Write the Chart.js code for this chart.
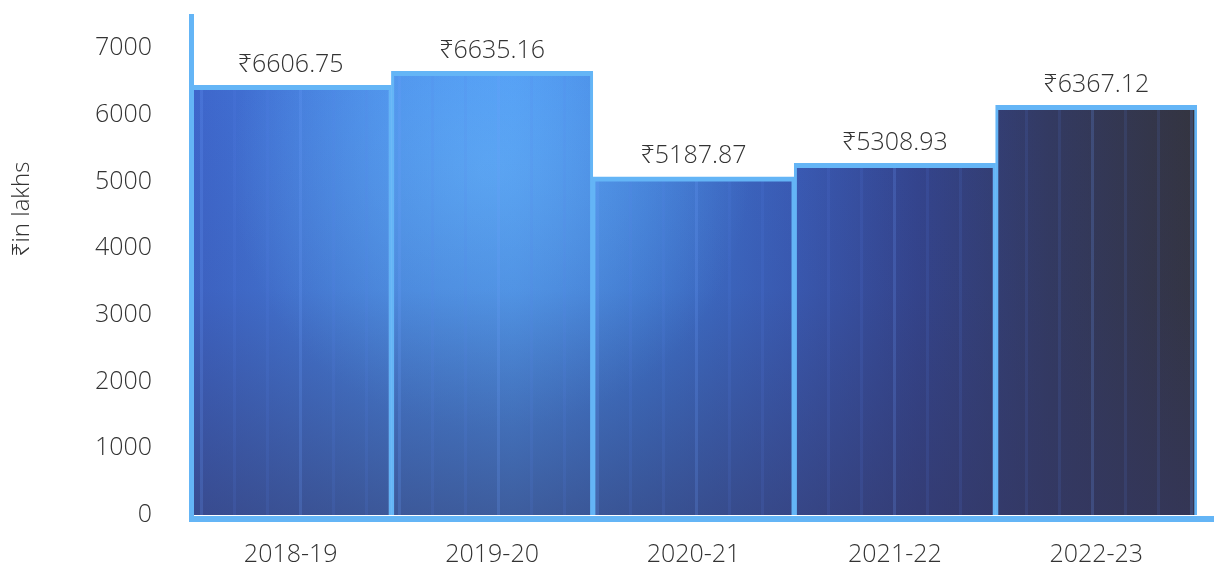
<!DOCTYPE html>
<html>
<head>
<meta charset="utf-8">
<script src="https://cdn.jsdelivr.net/npm/chart.js@4.4.1/dist/chart.umd.min.js"></script>
<style>
  html, body { margin: 0; padding: 0; background: #fff; }
  #wrap { width: 1214px; height: 567px; position: relative; }
</style>
</head>
<body>
<div id="wrap"><canvas id="grafico"></canvas></div>
<script>
const anios = ['2018-19', '2019-20', '2020-21', '2021-22', '2022-23'];
const alturas = [6440, 6650, 5070, 5270, 6140];
const etiquetas = ['₹6606.75', '₹6635.16', '₹5187.87', '₹5308.93', '₹6367.12'];
const marcasY = [0, 1000, 2000, 3000, 4000, 5000, 6000, 7000];

const azulBorde = '#64b5f6';
const fuente = "'Open Sans', 'Noto Sans', sans-serif";

// textura de las barras (degradado azul + rayas verticales)
function crearTextura(w, h) {
  const c = document.createElement('canvas');
  c.width = w; c.height = h;
  const g = c.getContext('2d');
  const lin = g.createLinearGradient(190, 0, 1200, 0);
  lin.addColorStop(0, '#3e66cc');
  lin.addColorStop(0.2, '#4888e6');
  lin.addColorStop(0.32, '#4c94f0');
  lin.addColorStop(0.45, '#3f7ad8');
  lin.addColorStop(0.6, '#3a5cb8');
  lin.addColorStop(0.72, '#344590');
  lin.addColorStop(0.85, '#333a62');
  lin.addColorStop(1, '#34343e');
  g.fillStyle = lin;
  g.fillRect(0, 0, w, h);
  const rad = g.createRadialGradient(490, 170, 10, 490, 170, 260);
  rad.addColorStop(0, 'rgba(100,180,255,0.7)');
  rad.addColorStop(1, 'rgba(100,180,255,0)');
  g.fillStyle = rad;
  g.fillRect(0, 0, w, h);
  const ver = g.createLinearGradient(0, 60, 0, 520);
  ver.addColorStop(0, 'rgba(50,55,100,0)');
  ver.addColorStop(0.5, 'rgba(50,55,100,0.12)');
  ver.addColorStop(1, 'rgba(52,55,100,0.6)');
  g.fillStyle = ver;
  g.fillRect(0, 0, w, h);
  for (let x = 200, i = 0; x < w; x += 33, i++) {
    g.fillStyle = i % 3 === 0 ? 'rgba(110,160,255,0.2)' : 'rgba(90,130,240,0.12)';
    g.fillRect(x, 0, 3, h);
  }
  return g.createPattern(c, 'no-repeat');
}

const ejes = {
  id: 'ejes',
  afterDatasetsDraw(chart) {
    const ctx = chart.ctx;
    const a = chart.chartArea;
    ctx.save();
    ctx.fillStyle = azulBorde;
    ctx.fillRect(a.left - 1, 14, 5, a.bottom + 7 - 14);
    ctx.fillRect(a.left - 1, a.bottom + 1, chart.width - a.left + 1, 6);
    // etiquetas de valor
    ctx.fillStyle = '#333333';
    ctx.font = '300 25px ' + fuente;
    ctx.textAlign = 'center';
    ctx.textBaseline = 'bottom';
    const meta = chart.getDatasetMeta(0);
    meta.data.forEach((bar, i) => {
      ctx.fillText(etiquetas[i], bar.x, bar.y - 8);
    });
    // titulo eje y
    ctx.translate(22, 209);
    ctx.rotate(-Math.PI / 2);
    ctx.textBaseline = 'middle';
    ctx.font = '300 24px ' + fuente;
    ctx.fillText('₹in lakhs', 0, 0);
    ctx.restore();
  }
};

const textura = crearTextura(1214, 567);

new Chart(document.getElementById('grafico'), {
  type: 'bar',
  data: {
    labels: anios,
    datasets: [{
      data: alturas,
      backgroundColor: textura,
      borderColor: azulBorde,
      borderWidth: { top: 5, left: 3, right: 3, bottom: 0 },
      borderSkipped: false,
      categoryPercentage: 1,
      barPercentage: 1
    }]
  },
  plugins: [ejes],
  options: {
    responsive: true,
    maintainAspectRatio: false,
    animation: false,
    layout: { padding: { top: 48, right: 17, left: 0, bottom: 0 } },
    plugins: {
      legend: { display: false },
      tooltip: { enabled: false }
    },
    scales: {
      x: {
        afterFit: (s) => { s.height = 52; },
        grid: { display: false, drawTicks: false },
        border: { display: false },
        ticks: { color: '#333333', font: { size: 25, family: fuente, weight: '300' }, padding: 25 }
      },
      y: {
        min: 0,
        max: 7000,
        afterFit: (s) => { s.width = 190; s.paddingTop = 0; s.paddingBottom = 0; },
        afterBuildTicks: (s) => { s.ticks = marcasY.map(v => ({ value: v })); },
        grid: { display: false, drawTicks: false },
        border: { display: false },
        ticks: {
          color: '#333333',
          font: { size: 25, family: fuente, weight: '300' },
          padding: 38,
          callback: (v) => String(v)
        }
      }
    }
  }
});
</script>
</body>
</html>
